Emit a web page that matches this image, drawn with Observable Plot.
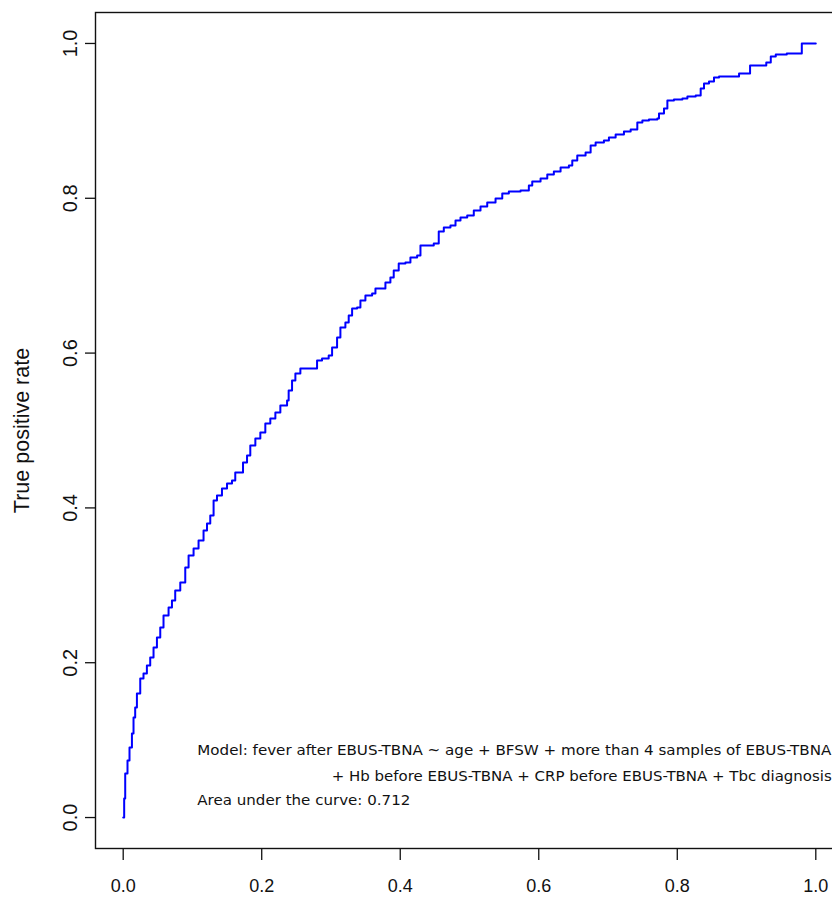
<!DOCTYPE html>
<html>
<head>
<meta charset="utf-8">
<script src="https://cdn.jsdelivr.net/npm/d3@7"></script>
<script src="https://cdn.jsdelivr.net/npm/@observablehq/plot@0.6"></script>
<style>
  html, body { margin: 0; padding: 0; background: #fff; }
  #chart { width: 832px; height: 898px; overflow: hidden; }
</style>
</head>
<body>
<div id="chart"></div>
<script>
// ROC curve: false positive rate / true positive rate
const fpr = [0, 0.0014, 0.0029, 0.0062, 0.0091, 0.0126, 0.0149, 0.0173, 0.0198, 0.0246,
  0.0293, 0.0342, 0.0390, 0.0438, 0.0487, 0.0535, 0.0582, 0.0655, 0.0704, 0.0751,
  0.0824, 0.0896, 0.0944, 0.1016, 0.1088, 0.1160, 0.1210, 0.1257, 0.1305, 0.1354,
  0.1426, 0.1499, 0.1571, 0.1618, 0.1691, 0.1730, 0.1788, 0.1835, 0.1908, 0.1980,
  0.2052, 0.2124, 0.2197, 0.2269, 0.2366, 0.2389, 0.2438, 0.2486, 0.2558, 0.2727,
  0.2799, 0.2871, 0.2967, 0.3016, 0.3088, 0.3136, 0.3208, 0.3256, 0.3305, 0.3377,
  0.3425, 0.3497, 0.3594, 0.3642, 0.3738, 0.3786, 0.3858, 0.3906, 0.3978, 0.4075,
  0.4147, 0.4244, 0.4292, 0.4484, 0.4556, 0.4629, 0.4725, 0.4798, 0.4870, 0.4967,
  0.5062, 0.5159, 0.5256, 0.5376, 0.5473, 0.5568, 0.5737, 0.5857, 0.5906, 0.6026,
  0.6123, 0.6218, 0.6315, 0.6435, 0.6484, 0.6556, 0.6676, 0.6749, 0.6821, 0.6941,
  0.7013, 0.7110, 0.7230, 0.7327, 0.7423, 0.7496, 0.7591, 0.7712, 0.7736, 0.7808,
  0.7857, 0.7952, 0.8074, 0.8146, 0.8266, 0.8338, 0.8386, 0.8458, 0.8530, 0.8603,
  0.8868, 0.8892, 0.9036, 0.9051, 0.9277, 0.9285, 0.9350, 0.9422, 0.9581, 0.9783,
  0.9798, 1.0];
const tpr = [0, 0.0245, 0.0568, 0.0736, 0.0904, 0.1085, 0.1292, 0.1421, 0.1602, 0.1796,
  0.1860, 0.1964, 0.2067, 0.2196, 0.2326, 0.2455, 0.2610, 0.2713, 0.2804, 0.2933,
  0.3036, 0.3230, 0.3385, 0.3475, 0.3579, 0.3708, 0.3798, 0.3902, 0.4096, 0.4160,
  0.4251, 0.4315, 0.4354, 0.4457, 0.4457, 0.4587, 0.4677, 0.4806, 0.4897, 0.4974,
  0.5090, 0.5155, 0.5233, 0.5323, 0.5388, 0.5517, 0.5646, 0.5736, 0.5801, 0.5801,
  0.5904, 0.5930, 0.5969, 0.6072, 0.6202, 0.6331, 0.6395, 0.6486, 0.6576, 0.6589,
  0.6680, 0.6744, 0.6770, 0.6835, 0.6835, 0.6912, 0.6977, 0.7067, 0.7158, 0.7171,
  0.7235, 0.7261, 0.7390, 0.7416, 0.7571, 0.7623, 0.7649, 0.7713, 0.7752, 0.7778,
  0.7842, 0.7894, 0.7946, 0.7997, 0.8062, 0.8088, 0.8101, 0.8165, 0.8217, 0.8256,
  0.8307, 0.8346, 0.8398, 0.8424, 0.8488, 0.8553, 0.8592, 0.8682, 0.8721, 0.8747,
  0.8786, 0.8824, 0.8863, 0.8889, 0.8979, 0.9005, 0.9018, 0.9031, 0.9096, 0.9160,
  0.9264, 0.9276, 0.9289, 0.9315, 0.9328, 0.9419, 0.9483, 0.9509, 0.9561, 0.9574,
  0.9574, 0.9612, 0.9612, 0.9716, 0.9716, 0.9755, 0.9832, 0.9858, 0.9871, 0.9871,
  1.0, 1.0];

const xTicks = [0, 0.2, 0.4, 0.6, 0.8, 1.0];
const xTickLabels = ["0.0", "0.2", "0.4", "0.6", "0.8", "1.0"];
const yTicks = [0, 0.2, 0.4, 0.6, 0.8, 1.0];
const yTickLabels = ["0.0", "0.2", "0.4", "0.6", "0.8", "1.0"];
const yAxisTitle = "True positive rate";
const annotationLines = [
  "Model: fever after EBUS-TBNA ~ age + BFSW + more than 4 samples of EBUS-TBNA",
  "+ Hb before EBUS-TBNA + CRP before EBUS-TBNA + Tbc diagnosis",
  "Area under the curve: 0.712"
];

const roc = fpr.map((x, i) => ({fpr: x, tpr: tpr[i]}));
const annFont = "DejaVu Sans, Verdana, sans-serif";

const chart = Plot.plot({
  width: 832,
  height: 898,
  marginLeft: 95,
  marginRight: -11,
  marginTop: 12,
  marginBottom: 50,
  x: {domain: [-0.04, 1.04]},
  y: {domain: [-0.04, 1.04]},
  style: {fontFamily: "Liberation Sans, Arial, sans-serif", background: "white", color: "#111"},
  marks: [
    Plot.frame({stroke: "#111", strokeWidth: 1.4}),
    Plot.axisX({ticks: xTicks, tickSize: 12, tickPadding: 19, fontSize: 18, label: null,
      strokeWidth: 1.3, tickFormat: d => xTickLabels[xTicks.indexOf(d)]}),
    Plot.axisY({ticks: yTicks, tickSize: 10, tickPadding: 9, tickRotate: -90, fontSize: 20, label: null,
      strokeWidth: 1.3, tickFormat: d => yTickLabels[yTicks.indexOf(d)]}),
    Plot.text([yAxisTitle], {text: d => d, frameAnchor: "left", textAnchor: "middle", dx: -73, rotate: -90, fontSize: 21.5}),
    Plot.line(roc, {x: "fpr", y: "tpr", curve: "step-after", stroke: "#0000ff", strokeWidth: 2}),
    Plot.text([annotationLines[0]], {text: d => d, x: 0.107, y: 0.0866, textAnchor: "start", fontSize: 14.5, fontFamily: annFont}),
    Plot.text([annotationLines[1]], {text: d => d, x: 1.023, y: 0.053, textAnchor: "end", fontSize: 14.5, fontFamily: annFont}),
    Plot.text([annotationLines[2]], {text: d => d, x: 0.107, y: 0.022, textAnchor: "start", fontSize: 14.5, fontFamily: annFont})
  ]
});

// squeeze annotation lines to the widths they occupy in the reference
const annWidths = [634, 500, 213];
d3.select(chart).selectAll("text").each(function() {
  const k = annotationLines.indexOf(this.textContent);
  if (k >= 0) {
    this.setAttribute("textLength", annWidths[k]);
    this.setAttribute("lengthAdjust", "spacingAndGlyphs");
  }
});

document.getElementById("chart").appendChild(chart);
</script>
</body>
</html>
